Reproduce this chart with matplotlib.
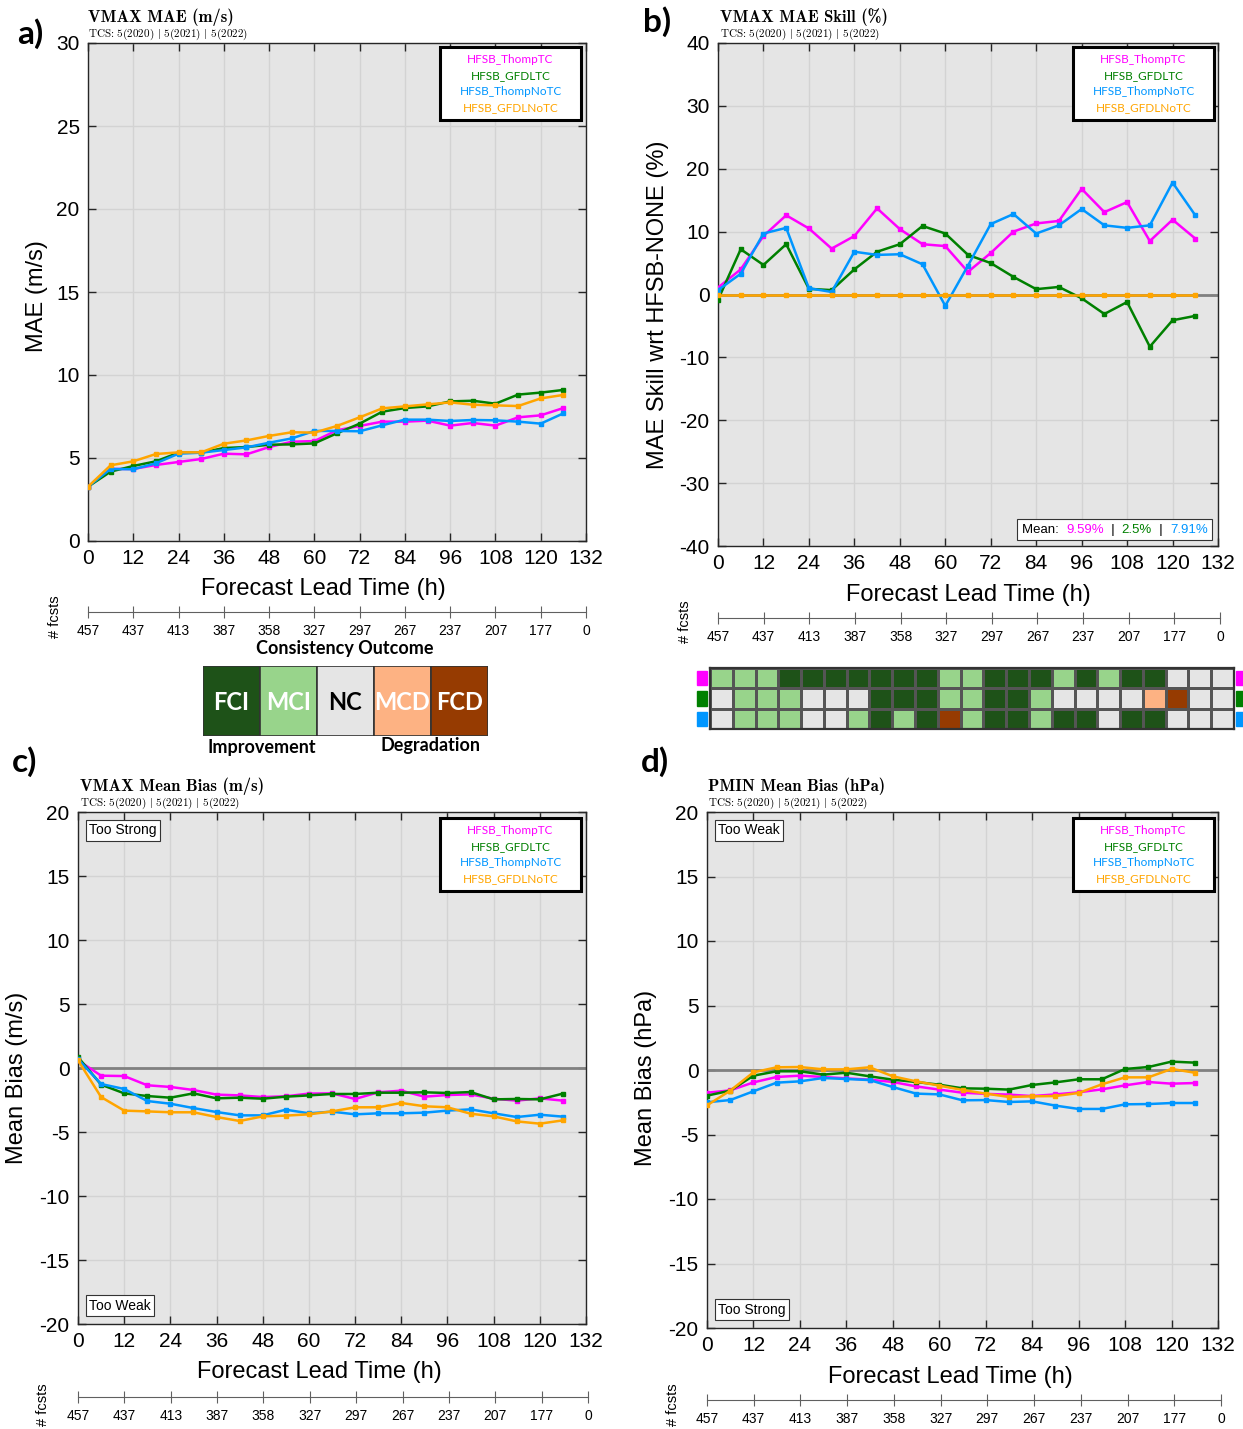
import matplotlib
matplotlib.use('Agg')
import matplotlib.pyplot as plt
import numpy as np
from matplotlib.patches import Rectangle
from matplotlib.offsetbox import TextArea, HPacker, AnchoredOffsetbox, AnchoredText
from matplotlib.colors import ListedColormap

plt.rcParams['mathtext.fontset'] = 'cm'
plt.rcParams['font.family'] = ['Liberation Sans', 'DejaVu Sans']
plt.rcParams['axes.unicode_minus'] = False

W, H = 1243, 1429

# ---------------- data ----------------
lead = [0, 6, 12, 18, 24, 30, 36, 42, 48, 54, 60, 66, 72, 78, 84, 90, 96, 102, 108, 114, 120, 126]
fcst_tick_hours = [0, 12, 24, 36, 48, 60, 72, 84, 96, 108, 120, 132]
fcst_counts = [457, 437, 413, 387, 358, 327, 297, 267, 237, 207, 177, 0]

names = ['HFSB_ThompTC', 'HFSB_GFDLTC', 'HFSB_ThompNoTC', 'HFSB_GFDLNoTC']
colors = ['#ff00ff', '#008000', '#0096ff', '#ffa500']

# a) VMAX MAE (m/s)
mae_thomptc = [3.27, 4.34, 4.34, 4.58, 4.76, 4.94, 5.26, 5.22, 5.66, 5.98, 6.02, 6.67, 6.93, 7.19, 7.19, 7.25, 6.95, 7.11, 6.95, 7.45, 7.57, 8.01]
mae_gfdltc = [3.27, 4.18, 4.52, 4.80, 5.32, 5.32, 5.60, 5.66, 5.80, 5.82, 5.88, 6.49, 7.07, 7.79, 8.01, 8.11, 8.41, 8.45, 8.27, 8.82, 8.94, 9.10]
mae_thompnotc = [3.27, 4.34, 4.32, 4.68, 5.26, 5.32, 5.48, 5.64, 5.92, 6.18, 6.63, 6.63, 6.61, 6.97, 7.31, 7.31, 7.23, 7.29, 7.27, 7.19, 7.07, 7.69]
mae_gfdlnotc = [3.27, 4.56, 4.80, 5.24, 5.34, 5.34, 5.86, 6.06, 6.33, 6.55, 6.53, 6.93, 7.45, 7.99, 8.11, 8.23, 8.35, 8.21, 8.17, 8.13, 8.59, 8.80]

# b) VMAX MAE Skill (%)
skill_thomptc = [1.1, 4.0, 9.3, 12.6, 10.5, 7.3, 9.3, 13.7, 10.4, 8.0, 7.7, 3.6, 6.6, 10.0, 11.3, 11.7, 16.8, 13.1, 14.7, 8.5, 11.9, 8.9]
skill_gfdltc = [-0.85, 7.2, 4.7, 8.0, 0.9, 0.7, 4.0, 6.8, 8.0, 10.9, 9.7, 6.3, 5.0, 2.8, 0.85, 1.2, -0.6, -3.1, -1.2, -8.3, -4.1, -3.4]
skill_thompnotc = [0.7, 3.3, 9.7, 10.6, 1.0, 0.4, 6.8, 6.3, 6.4, 4.8, -1.8, 4.6, 11.2, 12.8, 9.7, 11.0, 13.6, 11.0, 10.6, 11.0, 17.8, 12.6]
skill_gfdlnotc = [0.0] * 22
skill_means = ['9.59%', '2.5%', '7.91%']

# consistency outcome: 0=FCI 1=MCI 2=NC 3=MCD 4=FCD
cons_thomptc = [1, 1, 1, 0, 0, 0, 0, 0, 0, 0, 1, 1, 0, 0, 0, 1, 0, 1, 0, 0, 2, 2, 2]
cons_gfdltc = [2, 1, 1, 1, 2, 2, 2, 0, 0, 0, 1, 1, 0, 0, 1, 2, 2, 2, 2, 3, 4, 2, 2]
cons_thompnotc = [2, 1, 1, 1, 2, 2, 1, 0, 1, 0, 4, 1, 0, 0, 1, 0, 0, 2, 0, 0, 2, 2, 2]
cons_labels = ['FCI', 'MCI', 'NC', 'MCD', 'FCD']
cons_colors = ['#1e5218', '#98d48b', '#e5e5e5', '#fdb283', '#963b01']
cons_text_colors = ['white', 'white', 'black', 'white', 'white']

# c) VMAX Mean Bias (m/s)
vbias_thomptc = [0.6, -0.6, -0.63, -1.35, -1.48, -1.72, -2.08, -2.14, -2.27, -2.21, -2.0, -1.98, -2.42, -1.9, -1.77, -2.24, -2.11, -2.06, -2.4, -2.55, -2.37, -2.55]
vbias_gfdltc = [0.85, -1.3, -1.98, -2.19, -2.32, -1.98, -2.37, -2.32, -2.4, -2.24, -2.14, -2.03, -2.03, -1.93, -1.93, -1.9, -1.95, -1.88, -2.45, -2.42, -2.45, -2.0]
vbias_thompnotc = [0.7, -1.25, -1.64, -2.58, -2.79, -3.13, -3.44, -3.7, -3.7, -3.26, -3.54, -3.41, -3.62, -3.54, -3.54, -3.49, -3.33, -3.23, -3.54, -3.83, -3.65, -3.8]
vbias_gfdlnotc = [0.6, -2.27, -3.33, -3.39, -3.46, -3.46, -3.83, -4.14, -3.78, -3.72, -3.62, -3.39, -3.07, -3.07, -2.73, -2.99, -3.07, -3.57, -3.78, -4.17, -4.35, -4.09]

# d) PMIN Mean Bias (hPa)
pbias_thomptc = [-1.76, -1.58, -0.96, -0.54, -0.44, -0.54, -0.65, -0.75, -0.93, -1.27, -1.52, -1.76, -1.85, -1.91, -2.02, -1.89, -1.73, -1.5, -1.19, -0.93, -1.06, -1.01]
pbias_gfdltc = [-1.99, -1.6, -0.44, -0.1, -0.1, -0.36, -0.21, -0.49, -0.75, -0.93, -1.14, -1.42, -1.45, -1.52, -1.16, -0.96, -0.72, -0.72, 0.08, 0.23, 0.65, 0.57]
pbias_thompnotc = [-2.5, -2.33, -1.65, -0.98, -0.88, -0.62, -0.7, -0.78, -1.32, -1.83, -1.89, -2.35, -2.33, -2.48, -2.43, -2.76, -3.02, -3.02, -2.66, -2.64, -2.56, -2.56]
pbias_gfdlnotc = [-2.74, -1.6, -0.18, 0.21, 0.23, 0.05, 0.05, 0.21, -0.49, -0.88, -1.21, -1.55, -1.83, -2.09, -2.04, -2.02, -1.78, -1.11, -0.57, -0.57, 0.08, -0.21]

subtitle = r'TCS: 5(2020) $|$ 5(2021) $|$ 5(2022)'

# ---------------- helpers ----------------
fig = plt.figure(figsize=(W / 100, H / 100), dpi=100)


def px(x0, y0, x1, y1):
    return [x0 / W, 1 - y1 / H, (x1 - x0) / W, (y1 - y0) / H]


def ftext(x, y, s, **kw):
    return fig.text(x / W, 1 - y / H, s, **kw)


def titles(x, y, title):
    ftext(x, y, title, size=12, family='cmb10', va='center')
    ftext(x, y + 17, subtitle, size=8, family='cmr10', va='center')


def main_axes(x0, y0, x1, y1, ylim, yticks):
    ax = fig.add_axes(px(x0, y0, x1, y1))
    ax.set_facecolor('#e5e5e5')
    ax.set_xlim(0, 132)
    ax.set_xticks(range(0, 133, 12))
    ax.set_ylim(*ylim)
    ax.set_yticks(yticks)
    ax.grid(True, color='#d3d3d3', linewidth=1)
    ax.set_axisbelow(True)
    ax.tick_params(direction='in', top=True, right=True, length=6, width=1,
                   labelsize=15, colors='#262626', labelcolor='black', pad=6)
    for s in ax.spines.values():
        s.set_color('#262626')
        s.set_linewidth(1)
    return ax


def plot_series(ax, series):
    for vals, c in zip(series, colors):
        ax.plot(lead, vals, '-s', color=c, lw=1.8, ms=3.5, mfc=c, mec=c, zorder=3)


def legend_box(right, top):
    # box in figure pixels: 141 wide, 73 tall, right/top edge given
    x0, y0 = right - 141, top
    rect = Rectangle((x0 / W, 1 - (y0 + 73) / H), 141 / W, 73 / H, transform=fig.transFigure,
                     facecolor='white', edgecolor='black', lw=2.2, zorder=5)
    fig.add_artist(rect)
    for i, (n, c) in enumerate(zip(names, colors)):
        ftext(x0 + 70.5, y0 + 12.5 + 16 * i, n, color=c, size=8.5, family='Lato',
              ha='center', va='center', zorder=6)


def fcst_axis(x0, x1, y):
    ax = fig.add_axes([x0 / W, 1 - y / H, (x1 - x0) / W, 1e-4])
    ax.set_xlim(0, 132)
    for s in ['left', 'right', 'top']:
        ax.spines[s].set_visible(False)
    ax.spines['bottom'].set_color('#606060')
    ax.set_yticks([])
    ax.set_xticks(fcst_tick_hours)
    ax.set_xticklabels([str(v) for v in fcst_counts])
    ax.tick_params(axis='x', direction='inout', length=9, color='#606060', labelsize=10, pad=4)
    ax.patch.set_visible(False)
    return ax


def corner_text(ax, s, loc):
    at = AnchoredText(s, loc=loc, prop=dict(size=10), frameon=True, pad=0.25, borderpad=0.55)
    at.patch.set_edgecolor('#333333')
    at.patch.set_linewidth(0.8)
    at.zorder = 5
    ax.add_artist(at)


# ---------------- panel a ----------------
axa = main_axes(88, 43, 586, 541, (0, 30), range(0, 31, 5))
plot_series(axa, [mae_thomptc, mae_gfdltc, mae_thompnotc, mae_gfdlnotc])
legend_box(581, 47)
titles(88, 17, 'VMAX MAE (m/s)')
ftext(37, 296, 'MAE (m/s)', rotation=90, size=17, ha='center', va='center')
ftext(323, 589, 'Forecast Lead Time (h)', size=17, ha='center', va='center')
fcst_axis(88, 586, 612)
ftext(55, 617, '# fcsts', rotation=90, size=10.5, ha='center', va='center')
ftext(30, 34, 'a)', size=24, weight='bold', family='Lato', ha='center', va='center')

# ---------------- panel b ----------------
axb = main_axes(718, 43, 1218, 546, (-40, 40), range(-40, 41, 10))
axb.axhline(0, color='#808080', lw=2, zorder=2)
plot_series(axb, [skill_thomptc, skill_gfdltc, skill_thompnotc, skill_gfdlnotc])
legend_box(1214, 47)
parts = [TextArea('Mean:  ', textprops=dict(size=9.5, color='black'))]
for i, (m, c) in enumerate(zip(skill_means, colors[:3])):
    if i > 0:
        parts.append(TextArea('  |  ', textprops=dict(size=9.5, color='black')))
    parts.append(TextArea(m, textprops=dict(size=9.5, color=c)))
mbox = HPacker(children=parts, align='baseline', pad=0, sep=0)
mab = AnchoredOffsetbox(loc='lower right', child=mbox, pad=0.35, borderpad=0.4, frameon=True)
mab.patch.set_edgecolor('#333333')
mab.patch.set_linewidth(0.8)
mab.zorder = 5
axb.add_artist(mab)
titles(720, 17, 'VMAX MAE Skill (%)')
ftext(658, 305, 'MAE Skill wrt HFSB-NONE (%)', rotation=90, size=17, ha='center', va='center')
ftext(968, 595, 'Forecast Lead Time (h)', size=17, ha='center', va='center')
fcst_axis(718, 1220, 618)
ftext(685, 622, '# fcsts', rotation=90, size=10.5, ha='center', va='center')
ftext(657, 22, 'b)', size=24, weight='bold', family='Lato', ha='center', va='center')

# consistency grid
gax = fig.add_axes(px(710, 668, 1234, 729))
cons = np.array([cons_thomptc, cons_gfdltc, cons_thompnotc])
cmap = ListedColormap(cons_colors)
gax.pcolormesh(cons, cmap=cmap, vmin=-0.5, vmax=4.5, edgecolors='#555555', linewidth=1.0)
gax.set_xlim(0, cons.shape[1])
gax.set_ylim(3, 0)
gax.set_xticks([])
gax.set_yticks([])
for s in gax.spines.values():
    s.set_linewidth(1.6)
    s.set_color('#333333')
for r, c in enumerate(colors[:3]):
    gax.add_patch(Rectangle((-0.55, r + 0.15), 0.42, 0.7, color=c, clip_on=False))
    gax.add_patch(Rectangle((23.08, r + 0.15), 0.42, 0.7, color=c, clip_on=False))

# consistency legend
lax = fig.add_axes(px(203, 666, 488, 736))
lax.set_xlim(0, 5)
lax.set_ylim(0, 1)
lax.axis('off')
for i, (lab, c, tc) in enumerate(zip(cons_labels, cons_colors, cons_text_colors)):
    lax.add_patch(Rectangle((i, 0), 1, 1, facecolor=c, edgecolor='#333333', lw=1.2))
    lax.text(i + 0.5, 0.48, lab, color=tc, size=17, weight='bold', family='Lato', ha='center', va='center')
ftext(345, 648, 'Consistency Outcome', size=13, weight='bold', family='Lato', ha='center', va='center')
ftext(262, 748, 'Improvement', size=13, weight='bold', family='Lato', ha='center', va='center')
ftext(431, 746, 'Degradation', size=13, weight='bold', family='Lato', ha='center', va='center')

# ---------------- panel c ----------------
axc = main_axes(78, 812, 586, 1324, (-20, 20), range(-20, 21, 5))
axc.axhline(0, color='#808080', lw=2, zorder=2)
plot_series(axc, [vbias_thomptc, vbias_gfdltc, vbias_thompnotc, vbias_gfdlnotc])
legend_box(581, 818)
corner_text(axc, 'Too Strong', 'upper left')
corner_text(axc, 'Too Weak', 'lower left')
titles(80, 786, 'VMAX Mean Bias (m/s)')
ftext(17, 1078, 'Mean Bias (m/s)', rotation=90, size=17, ha='center', va='center')
ftext(319, 1372, 'Forecast Lead Time (h)', size=17, ha='center', va='center')
fcst_axis(78, 588, 1397)
ftext(43, 1405, '# fcsts', rotation=90, size=10.5, ha='center', va='center')
ftext(25, 762, 'c)', size=24, weight='bold', family='Lato', ha='center', va='center')

# ---------------- panel d ----------------
axd = main_axes(707, 812, 1218, 1328, (-20, 20), range(-20, 21, 5))
axd.axhline(0, color='#808080', lw=2, zorder=2)
plot_series(axd, [pbias_thomptc, pbias_gfdltc, pbias_thompnotc, pbias_gfdlnotc])
legend_box(1214, 818)
corner_text(axd, 'Too Weak', 'upper left')
corner_text(axd, 'Too Strong', 'lower left')
titles(708, 786, 'PMIN Mean Bias (hPa)')
ftext(646, 1078, 'Mean Bias (hPa)', rotation=90, size=17, ha='center', va='center')
ftext(950, 1377, 'Forecast Lead Time (h)', size=17, ha='center', va='center')
fcst_axis(707, 1221, 1400)
ftext(673, 1405, '# fcsts', rotation=90, size=10.5, ha='center', va='center')
ftext(655, 762, 'd)', size=24, weight='bold', family='Lato', ha='center', va='center')

fig.savefig('out.png', dpi=100)
